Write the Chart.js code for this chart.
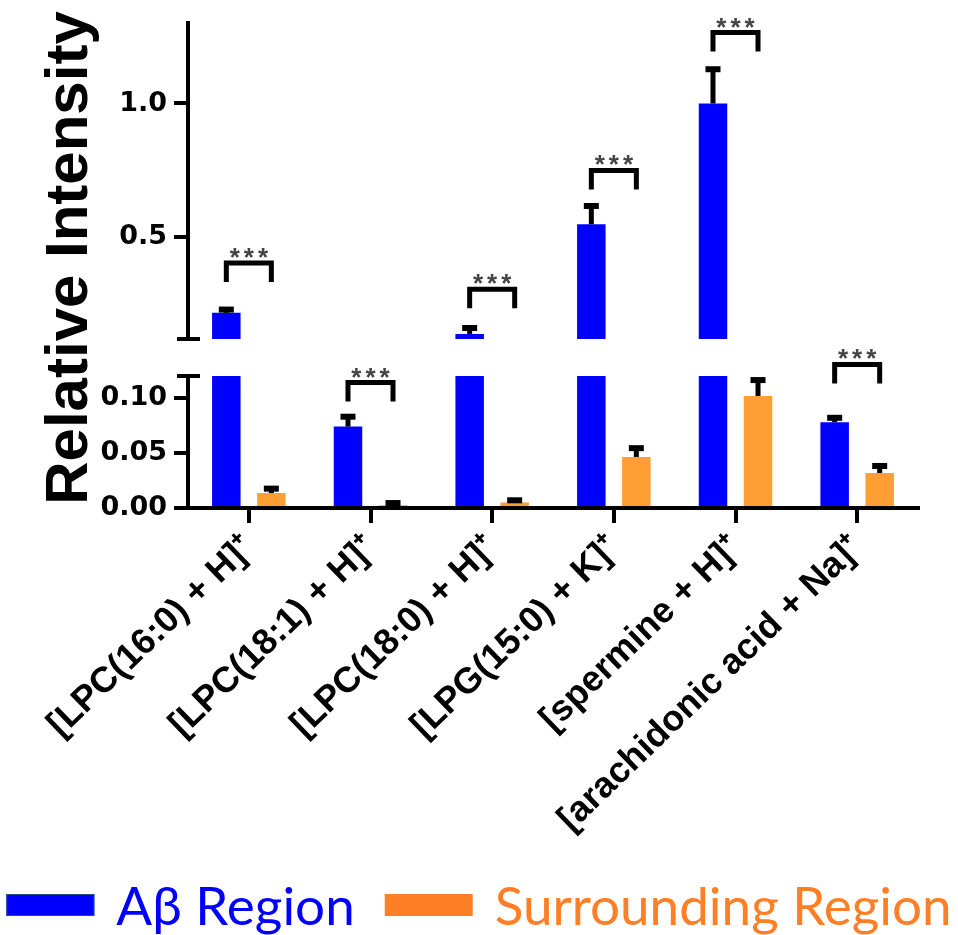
<!DOCTYPE html>
<html>
<head>
<meta charset="utf-8">
<script src="https://cdn.jsdelivr.net/npm/chart.js@4.4.1/dist/chart.umd.min.js"></script>
<style>
  html, body { margin: 0; padding: 0; background: #fff; }
  #wrap { position: relative; width: 958px; height: 935px; }
  #wrap canvas { position: absolute; left: 0; top: 0; }
</style>
</head>
<body>
<div id="wrap">
  <canvas id="upper" width="958" height="935"></canvas>
  <canvas id="lower" width="958" height="935"></canvas>
</div>
<script>
// --- data ---
const categories = ['[LPC(16:0) + H]⁺', '[LPC(18:1) + H]⁺', '[LPC(18:0) + H]⁺',
                    '[LPG(15:0) + K]⁺', '[spermine + H]⁺', '[arachidonic acid + Na]⁺'];
const abMean = [0.218, 0.074, 0.139, 0.549, 1.000, 0.078];
const abErr  = [0.012, 0.009, 0.022, 0.068, 0.128, 0.004];
const srMean = [0.0136, 0.0025, 0.005, 0.0464, 0.1018, 0.0318];
const srErr  = [0.004, 0.002, 0.002, 0.008, 0.0145, 0.0064];
const sigMarks = ['***', '***', '***', '***', '***', '***'];
const sigLevel = [0.404, 0.114, 0.306, 0.75, 1.265, 0.1305];
const sigPanel = ['upper', 'lower', 'upper', 'upper', 'upper', 'lower'];
const upperTicks = [0.5, 1.0];
const lowerTicks = [0.00, 0.05, 0.10];
const breakAt = 0.12;
const upperMax = 1.3;

const BLUE = '#0000ff';
const ORANGE = '#ff9f33';
const LEGEND_SPACE = 80;
const AXIS_FONT = '"Liberation Sans", Arial, sans-serif';

// --- plugins ---
const errorBars = {
  id: 'errorBars',
  afterDatasetsDraw(chart) {
    const { ctx, chartArea: a, scales: { y } } = chart;
    ctx.save();
    ctx.beginPath();
    ctx.rect(a.left, a.top, a.right - a.left, a.bottom - a.top);
    ctx.clip();
    ctx.fillStyle = '#000';
    chart.data.datasets.forEach((ds, di) => {
      chart.getDatasetMeta(di).data.forEach((bar, i) => {
        const v = ds.data[i], e = ds.errors[i];
        if (v + e < y.min || v > y.max) return; // belongs to the other panel
        const top = y.getPixelForValue(v + e);
        const base = y.getPixelForValue(v);
        ctx.fillRect(bar.x - 2.5, top, 5, base - top);
        ctx.fillRect(bar.x - 7.5, top - 3, 15, 6);
      });
    });
    ctx.restore();
  }
};

const sigBrackets = {
  id: 'sig',
  afterDatasetsDraw(chart, args, opts) {
    const { ctx, scales: { y } } = chart;
    const m0 = chart.getDatasetMeta(0).data, m1 = chart.getDatasetMeta(1).data;
    ctx.save();
    ctx.strokeStyle = '#000';
    ctx.lineWidth = 5;
    ctx.lineJoin = 'miter';
    sigLevel.forEach((v, i) => {
      if (sigPanel[i] !== opts.panel) return;
      const x1 = m0[i].x, x2 = m1[i].x, yy = y.getPixelForValue(v);
      ctx.beginPath();
      ctx.moveTo(x1, yy + 19);
      ctx.lineTo(x1, yy);
      ctx.lineTo(x2, yy);
      ctx.lineTo(x2, yy + 19);
      ctx.stroke();
      ctx.font = 'bold 26px ' + AXIS_FONT;
      ctx.letterSpacing = '4px';
      ctx.fillStyle = '#444';
      ctx.textAlign = 'center';
      const m = ctx.measureText(sigMarks[i]);
      ctx.fillText(sigMarks[i], (x1 + x2) / 2 + 2, yy - 5 - m.actualBoundingBoxDescent);
    });
    ctx.restore();
  }
};

const axisBreak = {
  id: 'axisBreak',
  afterDraw(chart, args, opts) {
    const { ctx, chartArea: a } = chart;
    const yy = opts.edge === 'bottom' ? a.bottom : a.top;
    ctx.save();
    ctx.fillStyle = '#000';
    ctx.fillRect(a.left - 11, yy - 2, 23, 4);
    ctx.restore();
  }
};

const yTitle = {
  id: 'yTitle',
  afterDraw(chart, args, opts) {
    if (!opts.text) return;
    const { ctx } = chart;
    ctx.save();
    ctx.translate(opts.x, opts.y);
    ctx.rotate(-Math.PI / 2);
    ctx.font = 'bold 60px ' + AXIS_FONT;
    ctx.fillStyle = '#000';
    ctx.textAlign = 'center';
    ctx.textBaseline = 'alphabetic';
    ctx.fillText(opts.text, 0, 0);
    ctx.restore();
  }
};

const bottomLegend = {
  id: 'bottomLegend',
  afterDraw(chart, args, opts) {
    if (!opts.items) return;
    const { ctx } = chart;
    ctx.save();
    ctx.font = opts.size + 'px Lato, "Noto Sans", sans-serif';
    ctx.textBaseline = 'alphabetic';
    const widths = opts.items.map(it => ctx.measureText(it.text).width);
    let total = 0;
    opts.items.forEach((it, i) => { total += 88 + 22 + widths[i]; });
    total += 30 * (opts.items.length - 1);
    let x = (chart.width - total) / 2;
    opts.items.forEach((it, i) => {
      ctx.fillStyle = it.box;
      ctx.fillRect(x, opts.y - 11, 88, 22);
      if (it.edge) { ctx.strokeStyle = it.edge; ctx.lineWidth = 1; ctx.strokeRect(x + 0.5, opts.y - 10.5, 87, 21); }
      x += 88 + 22;
      ctx.fillStyle = it.color;
      ctx.fillText(it.text, x, opts.y + 20);
      x += widths[i] + 30;
    });
    ctx.restore();
  }
};

// --- chart factory ---
function makeChart(id, panel) {
  const upper = panel === 'upper';
  return new Chart(document.getElementById(id), {
    type: 'bar',
    data: {
      labels: categories,
      datasets: [
        { label: 'Aβ Region', data: abMean.slice(), errors: abErr, backgroundColor: BLUE,
          clip: 0, categoryPercentage: 0.74, barPercentage: 0.633 },
        { label: 'Surrounding Region', data: srMean.slice(), errors: srErr, backgroundColor: ORANGE,
          clip: 0, categoryPercentage: 0.74, barPercentage: 0.633 }
      ]
    },
    plugins: [errorBars, sigBrackets, axisBreak, yTitle, bottomLegend],
    options: {
      responsive: false,
      animation: false,
      devicePixelRatio: 1,
      layout: { padding: upper ? { left: 0, right: 40, top: 23, bottom: 596 }
                               : { left: 0, right: 40, top: 376, bottom: LEGEND_SPACE } },
      plugins: {
        legend: { display: false },
        tooltip: { enabled: false },
        sig: { panel },
        axisBreak: { edge: upper ? 'bottom' : 'top' },
        yTitle: upper ? { text: 'Relative Intensity', x: 87, y: 258 } : {},
        bottomLegend: upper ? {} : {
          y: 905, size: 53,
          items: [
            { text: 'Aβ Region', box: BLUE, edge: '#1f4e79', color: BLUE },
            { text: 'Surrounding Region', box: '#ff7f27', color: '#ff7f27' }
          ]
        }
      },
      scales: {
        x: {
          display: !upper,
          grid: { offset: false, drawOnChartArea: false, tickLength: 15, lineWidth: 4, color: '#000' },
          border: { width: 4, color: '#000' },
          ticks: { color: '#000', font: { family: AXIS_FONT, weight: 'bold', size: 36 },
                   minRotation: 44, maxRotation: 44, autoSkip: false, padding: 4 },
          afterFit: s => { s.height = upper ? 0 : 935 - LEGEND_SPACE - 508; }
        },
        y: {
          min: upper ? breakAt : 0,
          max: upper ? upperMax : breakAt,
          afterFit: s => { s.width = 188; },
          afterBuildTicks: s => { s.ticks = (upper ? upperTicks : lowerTicks).map(v => ({ value: v })); },
          grid: { drawOnChartArea: false, tickLength: 14, lineWidth: 4, color: '#000' },
          border: { width: 4, color: '#000' },
          ticks: { color: '#000', padding: 7,
                   font: { family: '"DejaVu Sans", sans-serif', weight: 'bold', size: 27 },
                   callback: v => Number(v).toFixed(upper ? 1 : 2) }
        }
      }
    }
  });
}

makeChart('upper', 'upper');
makeChart('lower', 'lower');
</script>
</body>
</html>
